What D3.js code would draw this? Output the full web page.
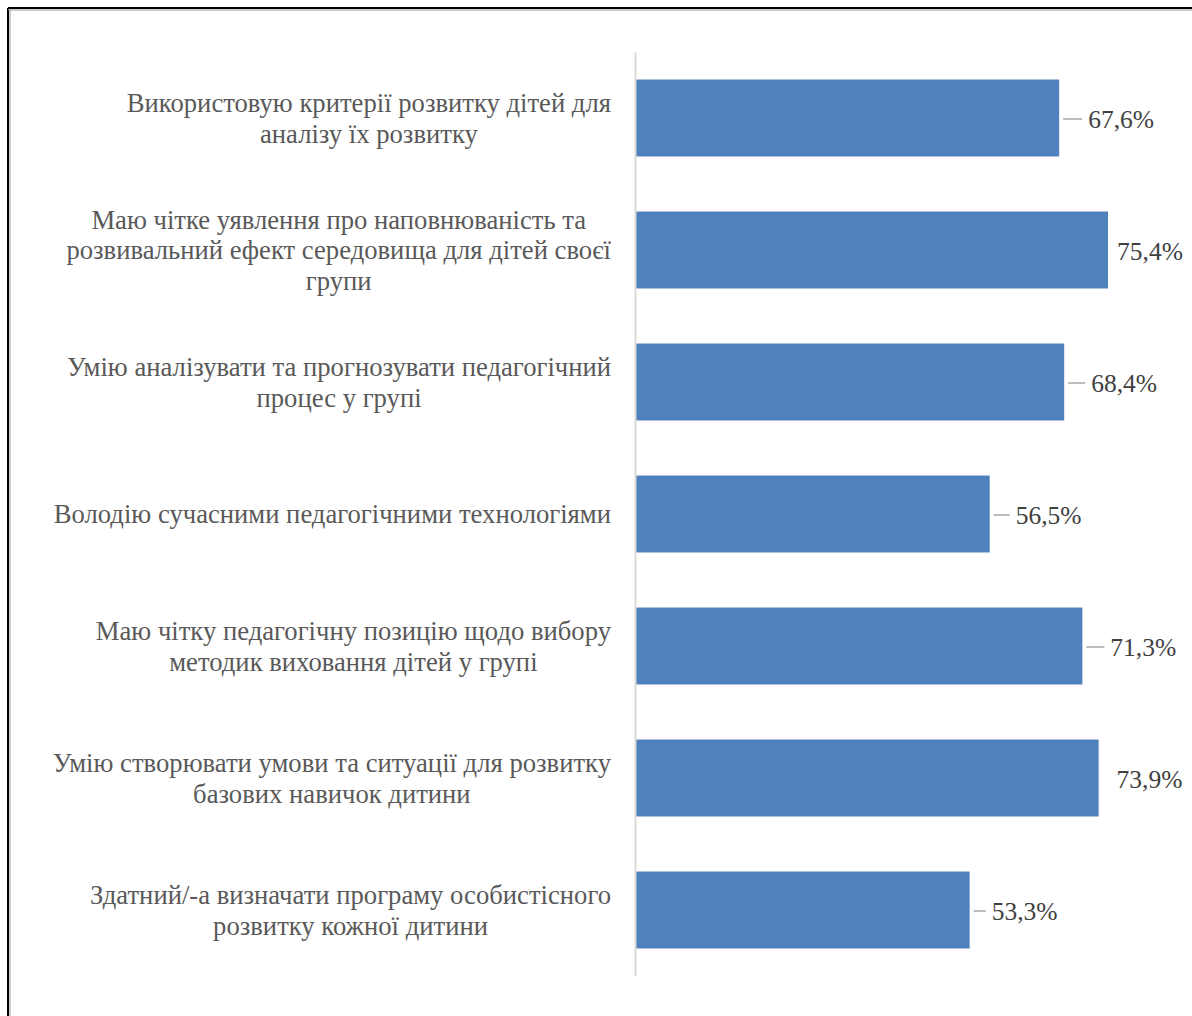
<!DOCTYPE html>
<html>
<head>
<meta charset="utf-8">
<script src="https://cdn.jsdelivr.net/npm/d3@7"></script>
<style>
  html, body { margin: 0; padding: 0; background: #fff; }
  svg { display: block; }
</style>
</head>
<body>
<svg id="chart" width="1192" height="1016"></svg>
<script>
const categories = [
  "Використовую критерії розвитку дітей для\nаналізу їх розвитку",
  "Маю чітке уявлення про наповнюваність та\nрозвивальний ефект середовища для дітей своєї\nгрупи",
  "Умію аналізувати та прогнозувати педагогічний\nпроцес у групі",
  "Володію сучасними педагогічними технологіями",
  "Маю чітку педагогічну позицію щодо вибору\nметодик виховання дітей у групі",
  "Умію створювати умови та ситуації для розвитку\nбазових навичок дитини",
  "Здатний/-а визначати програму особистісного\nрозвитку кожної дитини"
];
const values = [67.6, 75.4, 68.4, 56.5, 71.3, 73.9, 53.3];
const valueLabels = ["67,6%", "75,4%", "68,4%", "56,5%", "71,3%", "73,9%", "53,3%"];
// label nudges (px from bar end) as placed in the original
const labelOffsets = [29, 9, 27, 26, 28, 18, 22];

const svg = d3.select("#chart");
const FONT = '"Liberation Serif", "Times New Roman", serif';
const catSize = 26.67;
const valSize = 25.5;

// frame
svg.append("line").attr("x1", 8).attr("y1", 8).attr("x2", 1192).attr("y2", 8)
  .attr("stroke", "#000").attr("stroke-width", 2);
svg.append("line").attr("x1", 8).attr("y1", 8).attr("x2", 8).attr("y2", 1016)
  .attr("stroke", "#000").attr("stroke-width", 2);
svg.append("line").attr("x1", 8).attr("y1", 10).attr("x2", 1192).attr("y2", 10)
  .attr("stroke", "#9a9a9a").attr("stroke-width", 1);
svg.append("line").attr("x1", 10).attr("y1", 10).attr("x2", 10).attr("y2", 1016)
  .attr("stroke", "#9a9a9a").attr("stroke-width", 1);

const x0 = 636;
const x = d3.scaleLinear().domain([0, 100]).range([x0, x0 + 626]);
const y = d3.scaleBand().domain(d3.range(categories.length)).range([52, 976]).paddingInner(0.417).paddingOuter(0.2085);

// bars
svg.append("g").selectAll("rect").data(values).join("rect")
  .attr("x", x(0))
  .attr("y", (d, i) => y(i))
  .attr("width", d => x(d) - x(0))
  .attr("height", y.bandwidth())
  .attr("fill", "#4f81bd");

// axis line
const axis = d3.axisLeft(y).tickSize(0).tickFormat("");
const ag = svg.append("g").attr("transform", `translate(${x0 - 1},0)`).call(axis);
ag.select(".domain").attr("stroke", "#d9d9d9").attr("stroke-width", 2);

// category labels
const lineH = 30.5;
categories.forEach((c, i) => {
  const lines = c.split("\n");
  const cy = y(i) + y.bandwidth() / 2;
  const t = svg.append("text")
    .style("font-family", FONT).style("font-size", catSize + "px")
    .attr("fill", "#595959").attr("text-anchor", "middle");
  const spans = lines.map((ln, k) => t.append("tspan").text(ln)
    .attr("y", cy + (k - (lines.length - 1) / 2) * lineH)
    .attr("dy", "0.35em"));
  let maxW = 0;
  spans.forEach(s => { maxW = Math.max(maxW, s.node().getComputedTextLength()); });
  spans.forEach(s => s.attr("x", 611 - maxW / 2));
});

// value labels with leaders
values.forEach((v, i) => {
  const cy = y(i) + y.bandwidth() / 2;
  const end = x(v);
  const lx = end + labelOffsets[i];
  if (labelOffsets[i] > 20) {
    svg.append("line").attr("x1", end + 4).attr("x2", lx - 6)
      .attr("y1", cy + 1).attr("y2", cy + 1)
      .attr("stroke", "#a6a6a6").attr("stroke-width", 1.5);
  }
  svg.append("text").attr("x", lx).attr("y", cy + 1).attr("dy", "0.35em")
    .style("font-family", FONT).style("font-size", valSize + "px")
    .attr("fill", "#404040").text(valueLabels[i]);
});
</script>
</body>
</html>
